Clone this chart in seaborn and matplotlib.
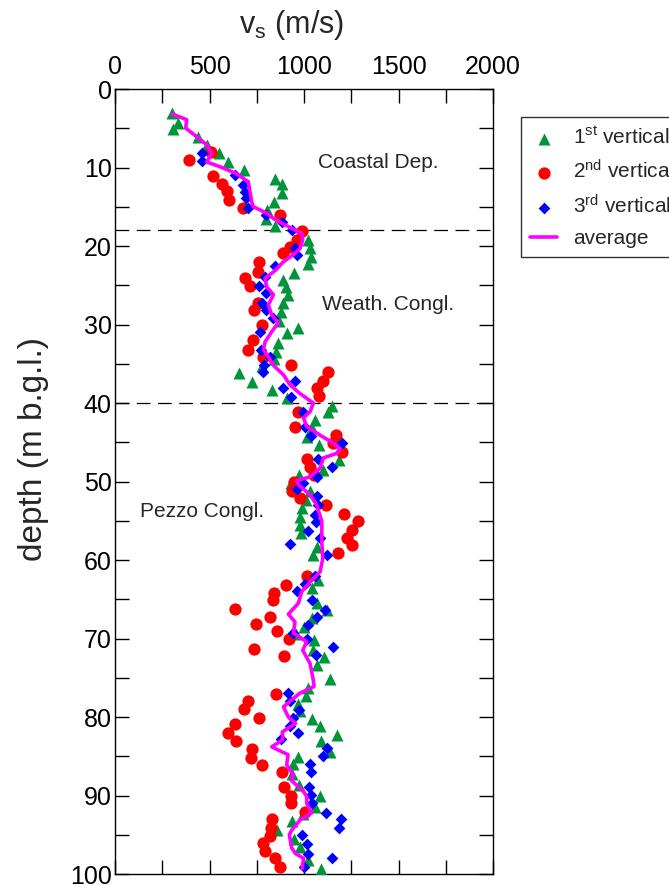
import matplotlib
matplotlib.use("Agg")
import matplotlib.pyplot as plt
import seaborn as sns
import pandas as pd
import numpy as np

sns.set_theme(style="white")
plt.rcParams['font.family'] = ['Liberation Sans', 'DejaVu Sans']
plt.rcParams['mathtext.fontset'] = 'custom'
plt.rcParams['mathtext.rm'] = 'Liberation Sans'
plt.rcParams['mathtext.it'] = 'Liberation Sans:italic'

# 1st vertical (green triangles): depth (m), vs (m/s)
depth_1 = [3.1, 4.3, 5.1, 6.1, 7.1, 8.2, 9.3, 10.3, 11.4, 12.1, 13.3, 14.4, 15.4, 16.5, 17.4,
           19.2, 20.3, 21.4, 22.3, 23.4, 24.3, 25.2, 26.3, 27.3, 28.4, 29.6, 30.5, 31.1, 32.3,
           33.5, 34.4, 35.3, 36.2, 37.3, 38.3, 39.4, 40.4, 41.1, 42.1, 43.2, 44.3, 45.4, 47.3,
           48.5, 49.2, 50.2, 51.2, 52.4, 53.4, 54.5, 55.5, 56.6, 58.4, 59.4, 62.6, 63.6, 65.5,
           66.4, 67.4, 68.5, 69.4, 70.2, 71.4, 72.3, 73.4, 75.1, 76.3, 77.3, 78.3, 79.2, 80.3,
           81.2, 82.3, 83.1, 84.4, 85.1, 86.0, 87.2, 88.7, 90.1, 91.5, 92.3, 93.3, 94.4, 95.5,
           96.5, 98.2, 99.3]
vs_1 = [303, 335, 309, 441, 485, 550, 600, 684, 846, 885, 882, 843, 802, 799, 845,
        1023, 1032, 1035, 1023, 949, 891, 905, 914, 891, 878, 869, 970, 908, 861,
        850, 843, 776, 658, 723, 832, 908, 1146, 1129, 1058, 1041, 1014, 1081, 1187,
        1099, 975, 930, 1032, 1009, 991, 979, 979, 984, 1070, 1049, 1076, 1041, 1067,
        1120, 1041, 1002, 956, 1053, 1046, 1108, 1067, 1138, 1023, 1009, 970, 979, 1041,
        1085, 1173, 1090, 1138, 970, 944, 935, 975, 1085, 1058, 997, 935, 855, 947,
        979, 1023, 1090]

# 2nd vertical (red circles)
depth_2 = [8.0, 9.1, 11.1, 12.1, 13.0, 14.1, 15.1, 16.1, 18.1, 19.2, 20.1, 20.9, 22.0, 23.3,
           24.1, 25.1, 27.2, 28.2, 30.1, 32.0, 33.2, 34.1, 35.1, 36.1, 37.2, 38.1, 39.1, 41.1,
           43.0, 44.1, 45.1, 46.2, 47.1, 48.2, 49.2, 50.0, 51.2, 52.1, 53.0, 54.2, 55.0, 56.2,
           57.2, 58.1, 59.1, 62.0, 63.2, 64.2, 65.1, 66.2, 67.3, 68.2, 69.1, 70.1, 71.3, 72.2,
           77.1, 78.0, 79.0, 80.1, 80.9, 82.0, 83.1, 84.1, 85.2, 86.1, 87.0, 88.9, 90.1, 91.0,
           92.1, 93.0, 94.1, 95.1, 96.1, 97.1, 98.0, 99.1]
vs_2 = [506, 393, 520, 568, 591, 605, 676, 873, 988, 961, 926, 891, 764, 758,
        688, 714, 758, 735, 776, 728, 705, 781, 931, 1129, 1099, 1067, 1081, 970,
        952, 1168, 1155, 1199, 1014, 1032, 1053, 947, 935, 979, 1115, 1212, 1287, 1252,
        1226, 1256, 1178, 1018, 903, 841, 834, 635, 820, 744, 855, 921, 735, 894,
        852, 702, 684, 762, 635, 600, 640, 723, 718, 776, 882, 894, 931, 931,
        1005, 829, 825, 820, 781, 794, 847, 873]

# 3rd vertical (blue diamonds)
depth_3 = [8.1, 9.2, 11.0, 12.2, 13.1, 13.9, 15.2, 16.0, 16.9, 18.0, 20.3, 21.1, 22.6, 23.9,
           25.1, 26.0, 27.2, 28.2, 29.2, 30.9, 33.2, 34.1, 35.2, 36.1, 37.2, 38.1, 39.2, 41.1,
           43.0, 44.2, 45.1, 47.1, 48.1, 49.4, 50.2, 51.0, 51.9, 53.0, 54.3, 55.2, 56.3, 57.2,
           58.0, 59.3, 62.0, 63.1, 64.0, 65.1, 66.4, 67.2, 68.3, 69.3, 70.1, 71.1, 72.1, 77.0,
           78.0, 79.1, 80.1, 81.2, 82.0, 82.8, 84.0, 85.0, 86.0, 87.0, 88.9, 89.9, 91.0, 92.2,
           93.0, 94.2, 95.0, 96.2, 97.4, 98.0, 99.1]
vs_3 = [459, 462, 635, 679, 688, 693, 705, 800, 882, 935, 952, 961, 847, 794,
        764, 799, 776, 799, 838, 767, 771, 820, 790, 781, 952, 891, 931, 997,
        1005, 1035, 1199, 1076, 1146, 1067, 993, 961, 1067, 1076, 1058, 1063, 1023, 1085,
        926, 1120, 1058, 1005, 961, 1041, 1111, 1070, 1023, 944, 1014, 1155, 1063, 917,
        926, 973, 944, 926, 970, 878, 1123, 1099, 1032, 1035, 1028, 1035, 1041, 1116,
        1196, 1187, 988, 1014, 1023, 1146, 1000]

# average profile (magenta line)
depth_avg = [3.2, 3.9, 5.0, 5.9, 7.1, 8.2, 9.3, 9.9, 10.7, 11.8, 14.4, 15.0, 15.8, 16.5, 17.3,
             18.4, 19.2, 20.3, 21.1, 22.0, 23.3, 24.1, 25.2, 26.2, 27.5, 28.8, 29.8, 30.7,
             32.2, 33.2, 34.1, 35.2, 36.4, 37.7, 38.8, 40.0, 41.1, 41.9, 43.0, 44.1, 45.1,
             45.8, 46.4, 47.0, 48.3, 49.4, 49.9, 50.4, 51.7, 53.0, 55.1, 57.7, 59.8, 61.5,
             62.8, 64.0, 65.5, 66.9, 67.9, 69.3, 70.4, 71.5, 73.2, 75.3, 76.1, 77.0, 78.7,
             80.0, 80.8, 81.9, 82.9, 83.8, 84.8, 86.1, 87.4, 88.0, 89.5, 90.1, 91.0, 92.2,
             93.1, 94.4, 95.0, 96.7, 97.4, 98.0, 99.3]
vs_avg = [303, 379, 374, 423, 485, 511, 485, 556, 635, 705, 723, 732, 802, 838, 899,
          988, 993, 979, 944, 891, 838, 794, 802, 838, 811, 829, 864, 835,
          794, 785, 811, 838, 891, 926, 979, 1049, 1032, 997, 1014, 1085, 1155,
          1190, 1173, 1102, 1085, 1032, 961, 970, 1032, 1067, 1094, 1094, 1099, 1085,
          1032, 988, 970, 917, 952, 944, 1014, 993, 1032, 1049, 1053, 975, 891,
          917, 955, 885, 887, 829, 915, 908, 944, 930, 997, 1014, 1014, 1040,
          979, 935, 922, 935, 955, 997, 990]

unit_bounds = [18, 40]
unit_names = ["Coastal Dep.", "Weath. Congl.", "Pezzo Congl."]

fig = plt.figure(figsize=(6.69, 8.85), dpi=100)
ax = fig.add_axes([0.172, 0.0124, 0.565, 0.887])

sns.scatterplot(x=vs_1, y=depth_1, marker='^', s=75, color='#00953A', linewidth=0,
                label=r'1$^{\rm st}$ vertical', ax=ax, zorder=3)
sns.scatterplot(x=vs_2, y=depth_2, marker='o', s=78, color='#FF0000', linewidth=0,
                label=r'2$^{\rm nd}$ vertical', ax=ax, zorder=3)
sns.scatterplot(x=vs_3, y=depth_3, marker='D', s=36, color='#0000FF', linewidth=0,
                label=r'3$^{\rm rd}$ vertical', ax=ax, zorder=3)
sns.lineplot(x=vs_avg, y=depth_avg, sort=False, orient='y', estimator=None,
             color='#FF00FF', linewidth=2.6, label='average', ax=ax, zorder=4)

for b in unit_bounds:
    ax.axhline(b, color='black', linewidth=0.9, linestyle=(0, (11, 6)), zorder=2)

ax.text(1075, 9.4, unit_names[0], fontsize=15, va='center', ha='left')
ax.text(1095, 27.5, unit_names[1], fontsize=15, va='center', ha='left')
ax.text(130, 53.8, unit_names[2], fontsize=15, va='center', ha='left')

ax.set_xlim(0, 2000)
ax.set_ylim(100, 0)
ax.set_xticks(np.arange(0, 2001, 500))
ax.set_xticks(np.arange(0, 2001, 250), minor=True)
ax.set_yticks(np.arange(0, 101, 10))
ax.set_yticks(np.arange(0, 101, 5), minor=True)
ax.xaxis.tick_top()
ax.xaxis.set_label_position('top')
ax.tick_params(which='both', direction='in', top=True, bottom=True, left=True, right=True,
               length=10, width=1, color='black', labelbottom=False, labeltop=True,
               labelsize=18, labelcolor='black')
ax.tick_params(axis='x', pad=7)
ax.tick_params(axis='y', pad=2.5)
for sp in ax.spines.values():
    sp.set_color('black')
    sp.set_linewidth(1.0)

ax.set_xlabel(r'v$_{\rm s}$ (m/s)', fontsize=22)
ax.set_ylabel('depth (m b.g.l.)', fontsize=24)
ax.xaxis.set_label_coords(0.468, 1.071)
ax.yaxis.set_label_coords(-0.175, 0.541)

leg = ax.legend(loc='upper left', bbox_to_anchor=(1.074, 0.964), borderaxespad=0,
                fontsize=15, frameon=True, fancybox=False, edgecolor='black',
                handlelength=1.3, handletextpad=0.75, labelspacing=0.55, borderpad=0.45)
leg.get_frame().set_linewidth(1.0)

fig.savefig('out.png', dpi=100)
